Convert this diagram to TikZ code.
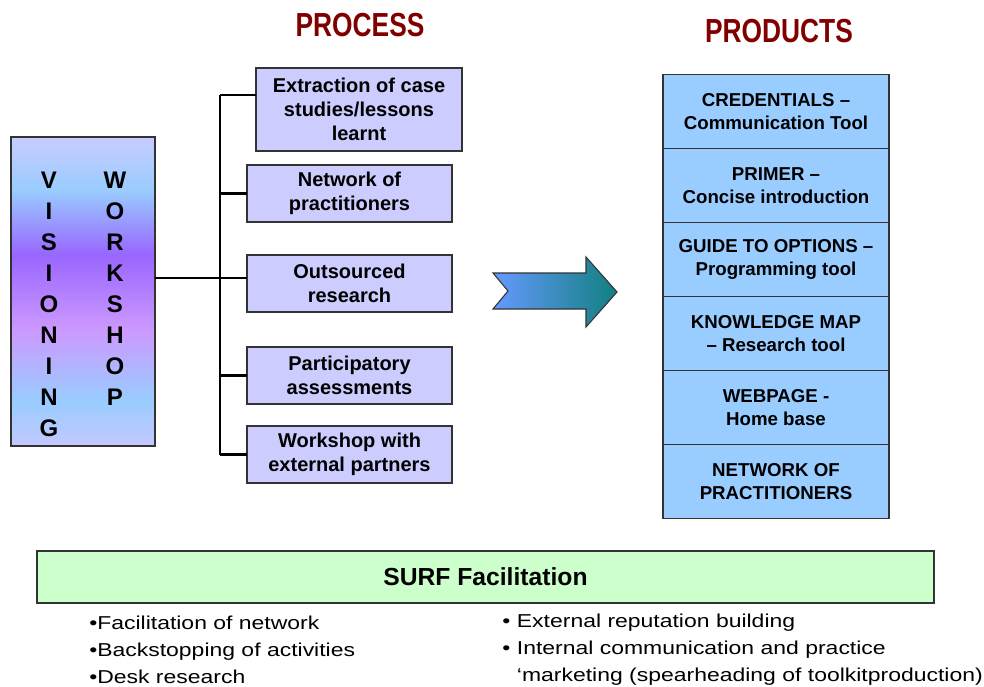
\documentclass[tikz,border=0pt]{standalone}
\usepackage{fontspec}
\setmainfont{Liberation Sans}
\newfontfamily\headfont{Liberation Sans}[FakeStretch=0.79]
\newfontfamily\notefont{Liberation Sans}[FakeStretch=1.23]
\usepackage{tikz}
\usetikzlibrary{positioning}

\definecolor{headred}{RGB}{128,0,0}
\definecolor{boxline}{RGB}{51,51,51}
\definecolor{procfill}{RGB}{204,204,255}
\definecolor{prodfill}{RGB}{153,204,255}
\definecolor{surffill}{RGB}{204,255,204}
\definecolor{vistop}{RGB}{200,204,255}
\definecolor{visblue}{RGB}{153,204,255}
\definecolor{vispurple}{RGB}{153,102,255}
\definecolor{vispink}{RGB}{204,153,255}
\definecolor{visbot}{RGB}{196,200,255}
\definecolor{arrowleft}{RGB}{102,153,255}
\definecolor{arrowright}{RGB}{17,128,128}

% banded fill of the visioning box, bottom to top
\pgfdeclareverticalshading{visioning}{100bp}{color(0bp)=(visbot); color(25bp)=(visbot);
  color(32.4bp)=(visblue); color(43.8bp)=(vispink); color(55.9bp)=(vispurple);
  color(66.4bp)=(visblue); color(75bp)=(vistop); color(100bp)=(vistop)}

\tikzset{
  heading/.style={text=headred, inner sep=0pt, font=\headfont\fontsize{25}{28}\selectfont\bfseries},
  procbox/.style={draw=boxline, line width=1pt, fill=procfill, align=center, inner sep=0pt,
    outer sep=0pt, minimum width=153.75pt, minimum height=42.75pt,
    font=\fontsize{15}{18}\selectfont\bfseries},
  prodbox/.style={draw=boxline, line width=0.9pt, fill=prodfill, align=center, inner sep=0pt,
    outer sep=0pt, minimum width=169.5pt, minimum height=55.5pt,
    font=\fontsize{14}{17.25}\selectfont\bfseries},
  letter/.style={inner sep=0pt, font=\fontsize{18}{20}\selectfont\bfseries},
  branch/.style={line width=1.9pt},
  notes/.style={align=left, inner sep=0pt, font=\notefont\fontsize{14}{20.25}\selectfont},
}

\begin{document}
\begin{tikzpicture}[x=0.75pt,y=0.75pt,yscale=-1,xscale=1]
\path[use as bounding box] (0,0) rectangle (984,686);

% Text Node
\node[heading] (process) at (360,25) {PROCESS};
% Text Node
\node[heading] (products) at (779,31) {PRODUCTS};

%Shape: Rectangle
\node[draw=boxline, line width=1pt, shade, shading=visioning, minimum width=108pt,
  minimum height=231.75pt, outer sep=0pt] (vis) at (83,291.5) {};
\foreach \l [count=\i from 0] in {V,I,S,I,O,N,I,N,G}
  \node[letter] (vis-l\i) at (49,{180+31*\i}) {\l};
\foreach \l [count=\i from 0] in {W,O,R,K,S,H,O,P}
  \node[letter] (vis-r\i) at (115,{180+31*\i}) {\l};

%Shape: Rectangle
\node[procbox, minimum width=154.5pt, minimum height=62.25pt] (extract) at (359,109.5)
  {Extraction of case\\studies/lessons\\learnt};
\node[procbox] (network) at (349.5,193.5) {Network of\\practitioners};
\node[procbox] (outsource) at (349.5,283.5) {Outsourced\\research};
\node[procbox] (assess) at (349.5,375.5) {Participatory\\assessments};
\node[procbox] (partners) at (349.5,454.5) {Workshop with\\external partners};

%Straight Lines
\coordinate (trunktop) at (220,95);
\coordinate (hub) at (220,278);
\draw[branch] (trunktop) -- (trunktop |- partners.west);
\draw[branch] (vis.east |- hub) -- (hub) -- (hub -| outsource.west);
\draw[branch] (trunktop) -- (trunktop -| extract.west);
\draw[branch] (network.west) -- (network.west -| trunktop);
\draw[branch] (assess.west) -- (assess.west -| trunktop);
\draw[branch] (partners.west) -- (partners.west -| trunktop);

%Shape: Right Arrow
\shade[left color=arrowleft, right color=arrowright, draw=boxline, line width=0.8pt]
  (493,273) -- (586,273) -- (586,257) -- (617,292) -- (586,327) -- (586,309)
  -- (493,309) -- (508,291) -- cycle;

%Shape: Rectangle
\node[prodbox] (cred) at (776,111.5) {CREDENTIALS --\\Communication Tool};
\node[prodbox, below=0pt of cred] (primer) {PRIMER --\\Concise introduction};
\node[prodbox, below=0pt of primer] (guide) {GUIDE TO OPTIONS --\\Programming tool};
\node[prodbox, below=0pt of guide] (kmap) {KNOWLEDGE MAP\\ -- Research tool};
\node[prodbox, below=0pt of kmap] (webpage) {WEBPAGE -\\Home base};
\node[prodbox, below=0pt of webpage] (practnet) {NETWORK OF\\PRACTITIONERS};

%Shape: Rectangle
\node[draw=boxline, line width=1pt, fill=surffill, minimum width=672.75pt, minimum height=39pt,
  font=\fontsize{18.5}{22}\selectfont\bfseries] (surf) at (485.5,577) {SURF Facilitation};

% Text Node
\node[notes, anchor=west] (tasks) at (89,650)
  {•Facilitation of network\\•Backstopping of activities\\•Desk research};
% Text Node
\node[notes, anchor=west] (outreach) at (502,650)
  {\makebox[11pt][l]{•}External reputation building\\
   \makebox[11pt][l]{•}Internal communication and practice\\
   \hspace*{11pt}‘marketing (spearheading of toolkitproduction)};
\end{tikzpicture}
\end{document}
